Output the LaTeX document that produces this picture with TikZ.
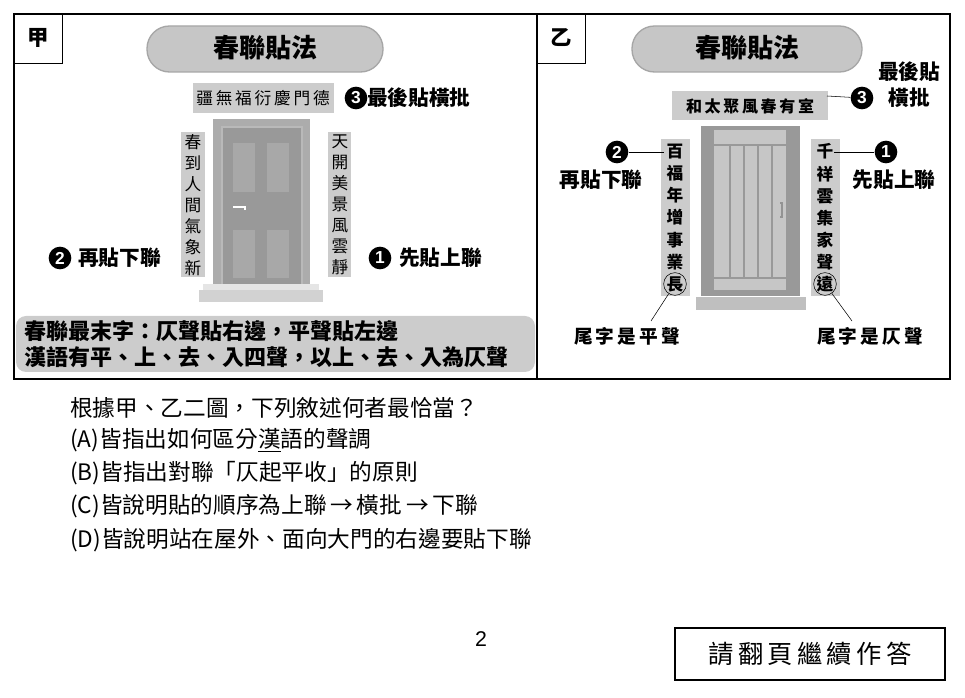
\documentclass[tikz,border=0pt]{standalone}
\usepackage{fontspec}
\setmainfont{Noto Sans CJK TC}
\newfontfamily\numf{Liberation Sans}
\begin{document}
\begin{tikzpicture}[x=0.75pt,y=-0.75pt,
  pill/.style={fill=gray!45,draw=gray!70,line width=1pt,rounded corners=22.5*0.75pt},
  ban/.style={fill=gray!40},
  num/.style={circle,fill=black,text=white,inner sep=0pt,minimum size=17pt,font=\bfseries\numf\fontsize{13}{13}\selectfont},
  lbl/.style={font=\bfseries\fontsize{15.5}{16}\selectfont,inner sep=0pt},
  cpl/.style={font=\fontsize{12.5}{15.8}\selectfont,align=center,inner sep=0pt},
  cplb/.style={font=\bfseries\fontsize{12.5}{16.6}\selectfont,align=center,inner sep=0pt},
  qt/.style={font=\fontsize{17}{18}\selectfont,anchor=west,inner sep=0pt}]
\useasboundingbox (0,0) rectangle (965,698);
% frames
\draw[line width=0.8pt] (14,14) rectangle (950,379);
\draw[line width=0.8pt] (537,14) -- (537,379);
\draw[line width=0.6pt] (14,63) -- (62,63) -- (62,14);
\draw[line width=0.6pt] (537,63) -- (585,63) -- (585,14);
\node[font=\bfseries\fontsize{16}{16}\selectfont] (jia) at (38,38) {甲};
\node[font=\bfseries\fontsize{16}{16}\selectfont] (yi) at (561,38) {乙};
% ===== panel jia
\draw[pill] (147,26) rectangle (383,72);
\node[font=\bfseries\fontsize{19.5}{20}\selectfont] (t1) at (265,48) {春聯貼法};
\fill[ban] (193,83) rectangle (334,113);
\node[font=\fontsize{12.5}{13}\selectfont] (b1) at (263,98) {疆\,無\,福\,衍\,慶\,門\,德};
\node[num] (n3a) at (356,98) {3};
\node[lbl,anchor=west] (l3a) at (367,98) {最後貼橫批};
% door
\fill[gray!65] (213,119) rectangle (310,288);
\fill[gray!80] (222,127) rectangle (302,288);
\draw[gray!55,line width=0.8pt] (222,127) rectangle (302,288);
\foreach \x in {233,267}{
 \fill[gray!68] (\x,143) rectangle (\x+22,192);
 \fill[gray!68] (\x,230) rectangle (\x+22,278);}
\draw[white,line width=1.5pt] (233,207) -- (245,207) -- (245,210);
\fill[gray!35] (199,290) rectangle (323,302);
\fill[gray!20] (203,284) rectangle (319,290);
\fill[ban] (181,132) rectangle (205,277);
\fill[ban] (328,132) rectangle (351,277);
\node[cpl] (c1) at (193,205) {春\\到\\人\\間\\氣\\象\\新};
\node[cpl] (c2) at (340,205) {天\\開\\美\\景\\風\\雲\\靜};
\node[num] (n2a) at (60,258) {2};
\node[lbl,anchor=west] (l2a) at (78,258) {再貼下聯};
\node[num] (n1a) at (380,258) {1};
\node[lbl,anchor=west] (l1a) at (399,258) {先貼上聯};
\fill[gray!40,rounded corners=10*0.75pt] (16,316) rectangle (535,372);
\node[font=\bfseries\fontsize{16.5}{17}\selectfont,anchor=west,inner sep=0pt] (s1) at (24,331) {春聯最末字：仄聲貼右邊，平聲貼左邊};
\node[font=\bfseries\fontsize{16.5}{17}\selectfont,anchor=west,inner sep=0pt] (s2) at (24,357) {漢語有平、上、去、入四聲，以上、去、入為仄聲};
% ===== panel yi
\draw[pill] (632,26) rectangle (862,72);
\node[font=\bfseries\fontsize{19.5}{20}\selectfont] (t2) at (747,48) {春聯貼法};
\fill[ban] (672,91) rectangle (828,120);
\node[font=\bfseries\fontsize{12}{12}\selectfont] (b2) at (750,106) {和\,太\,聚\,風\,春\,有\,室};
\node[num] (n3b) at (862,98) {3};
\node[lbl] (l3b1) at (909,72) {最後貼};
\node[lbl] (l3b2) at (909,98) {橫批};
\coordinate (e3) at (827,96);
\draw (e3) -- (n3b);
% door
\fill[gray!80] (701,126) rectangle (800,296);
\fill[gray!45] (714,130) rectangle (786,290);
\draw[gray!80,line width=0.8pt] (714,145) -- (786,145) (714,278) -- (786,278);
\foreach \x in {730,744,758,772} \draw[gray!80,line width=0.8pt] (\x,145) -- (\x,278);
\draw[gray!85,line width=1.2pt] (780,203) -- (782,203) -- (782,217) -- (780,217);
\fill[gray!50] (696,297) rectangle (806,310);
\fill[ban] (661,139) rectangle (690,296);
\fill[ban] (811,139) rectangle (840,296);
\node[cplb] (c3) at (675,218) {百\\福\\年\\增\\事\\業\\長};
\node[cplb] (c4) at (825,218) {千\\祥\\雲\\集\\家\\聲\\遠};
\node[circle,draw,inner sep=0pt,minimum size=17pt] (o1) at (675,284) {};
\node[circle,draw,inner sep=0pt,minimum size=17pt] (o2) at (825,284) {};
\node[num] (n2b) at (617,152) {2};
\node[lbl] (l2b) at (601,180) {再貼下聯};
\coordinate (e2) at (664,152);
\draw (n2b) -- (e2);
\node[num] (n1b) at (886,152) {1};
\node[lbl] (l1b) at (894,180) {先貼上聯};
\coordinate (e1) at (834,152);
\draw (e1) -- (n1b);
\node[font=\bfseries\fontsize{14}{14}\selectfont] (w1) at (627,336) {尾\,字\,是\,平\,聲};
\node[font=\bfseries\fontsize{14}{14}\selectfont] (w2) at (870,336) {尾\,字\,是\,仄\,聲};
\coordinate (w1t) at (651,321);
\coordinate (w2t) at (852,321);
\draw (o1) -- (w1t);
\draw (o2) -- (w2t);
% ===== question
\node[qt] (q0) at (70,408) {根據甲、乙二圖，下列敘述何者最恰當？};
\node[qt] (qa) at (70,440) {(A)皆指出如何區分\underline{漢}語的聲調};
\node[qt] (qb) at (70,473) {(B)皆指出對聯「仄起平收」的原則};
\node[qt] (qc) at (70,506) {(C)皆說明貼的順序為上聯\,→\,橫批\,→\,下聯};
\node[qt] (qd) at (70,540) {(D)皆說明站在屋外、面向大門的右邊要貼下聯};
\node[font=\numf\fontsize{16}{16}\selectfont] (pg) at (481,639) {2};
\node[draw,line width=0.8pt,minimum width=270*0.75pt,minimum height=52*0.75pt,font=\fontsize{19}{19}\selectfont] (nx) at (810,654) {請\,翻\,頁\,繼\,續\,作\,答};
\end{tikzpicture}
\end{document}
